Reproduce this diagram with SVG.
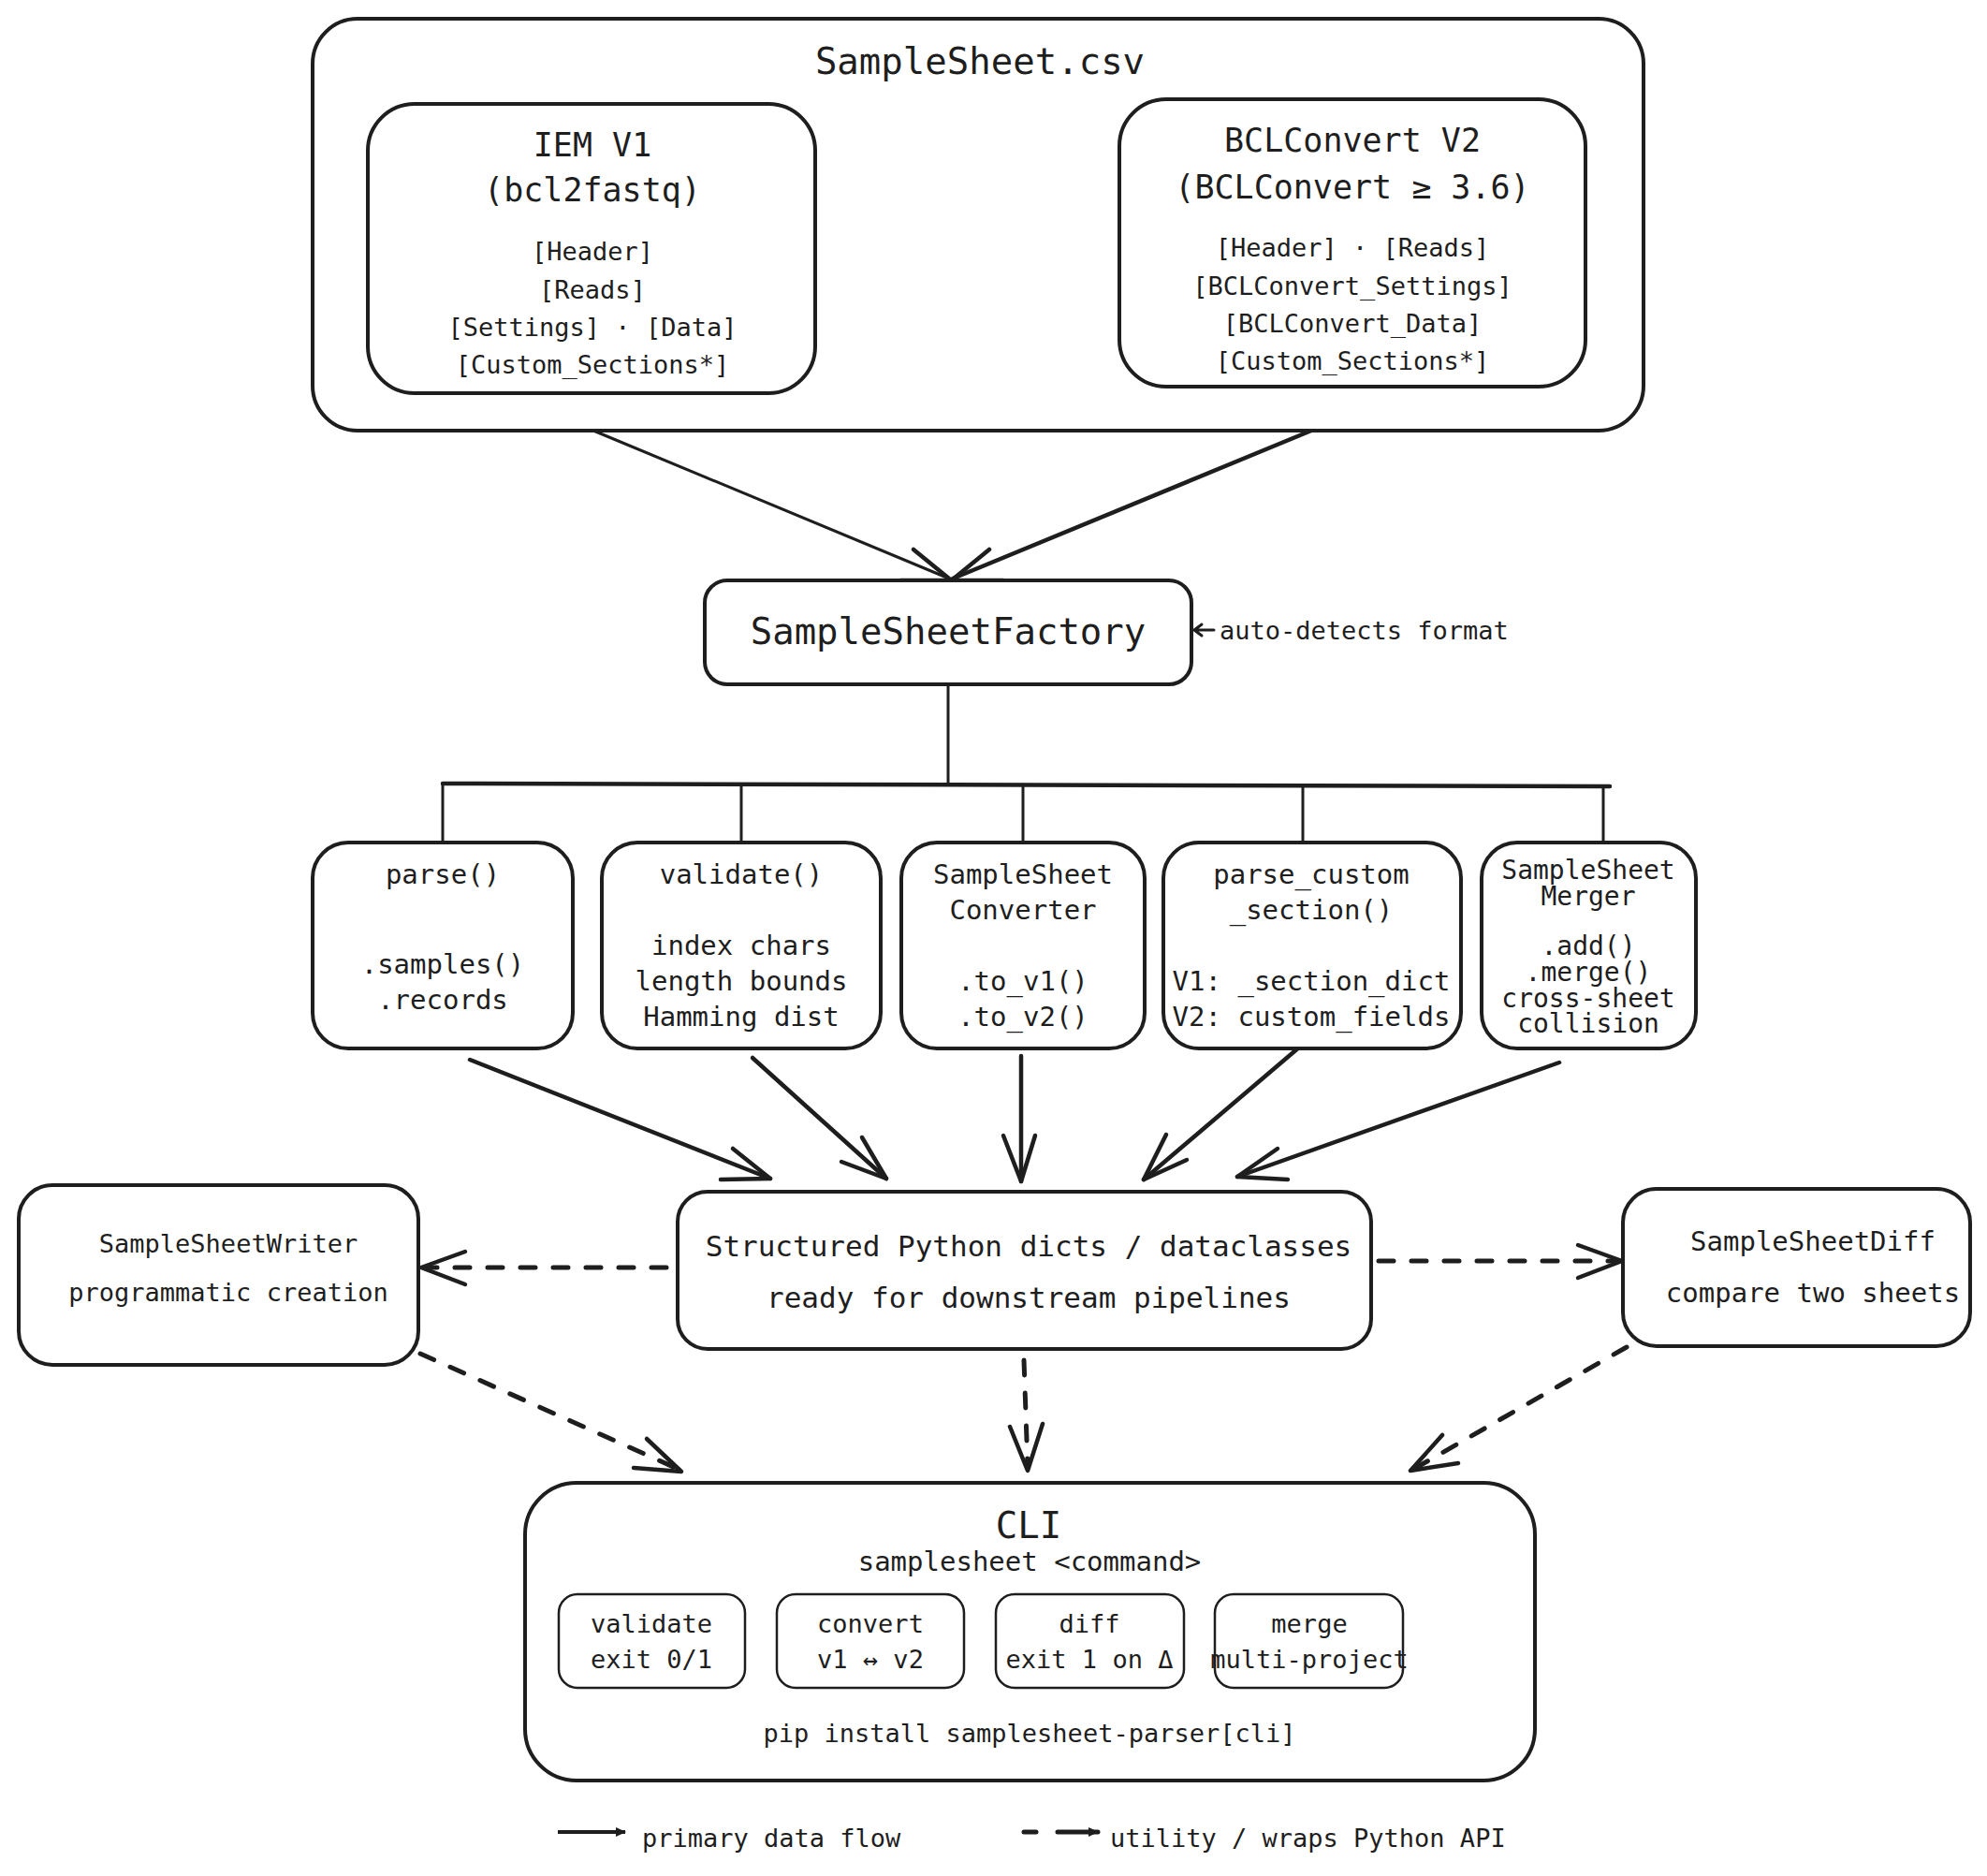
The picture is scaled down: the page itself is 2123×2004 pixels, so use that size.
<svg xmlns="http://www.w3.org/2000/svg" width="2123" height="2004" viewBox="0 0 2123 2004">
<style>
  text { font-family: "DejaVu Sans Mono", "Liberation Mono", monospace; fill: #1e1e1e; text-anchor: middle; dominant-baseline: central; }
  .box { fill: #ffffff; stroke: #1e1e1e; stroke-width: 4; }
  .sub { fill: #ffffff; stroke: #1e1e1e; stroke-width: 2.5; }
  .t39 { font-size: 39px; }
  .t35 { font-size: 35px; }
  .t31 { font-size: 31px; }
  .t29 { font-size: 29px; }
  .t28 { font-size: 28px; }
  .t27 { font-size: 27px; }
  .start { text-anchor: start; }
  .line { fill: none; stroke: #1e1e1e; stroke-width: 3; stroke-linecap: round; stroke-linejoin: round; }
  .solid { fill: none; stroke: #1e1e1e; stroke-width: 4.5; stroke-linecap: round; stroke-linejoin: round; }
  .dash { fill: none; stroke: #1e1e1e; stroke-width: 5; stroke-linecap: round; stroke-dasharray: 16 19; }
  .head { fill: none; stroke: #1e1e1e; stroke-width: 4.5; stroke-linecap: round; stroke-linejoin: round; }
</style>
<defs>
  <marker id="tri" viewBox="0 0 12 12" refX="10" refY="6" markerWidth="12" markerHeight="12" markerUnits="userSpaceOnUse" orient="auto">
    <path d="M0,1 L11,6 L0,11 Z" fill="#1e1e1e"/>
  </marker>
</defs>

<g id="connectors">
  <!-- top arrows into factory -->
  <path class="line" d="M634,460 L1014,618"/>
  <path class="solid" d="M1401,460 L1018,618"/>
  <path class="head" d="M976,587 L1014,618 M1057,587 L1019,618 M962,620 L1072,620"/>
  <!-- auto-detect arrow -->
  <path class="line" stroke-width="2.5" d="M1297,673 L1276,673 M1284,667 L1276,673 L1284,679"/>
  <!-- factory to methods -->
  <path class="line" d="M1013,731 L1013,838"/>
  <path class="solid" d="M473,837 L1720,840"/>
  <path class="line" d="M473,837 L473,899 M792,838 L792,899 M1093,838 L1093,899 M1392,839 L1392,899 M1713,840 L1713,899"/>
  <!-- methods to structured -->
  <path class="solid" d="M502,1132 L823,1259"/>
  <path class="head" d="M783,1227 L823,1259 L770,1260"/>
  <path class="solid" d="M804,1130 L947,1259"/>
  <path class="head" d="M921,1215 L947,1259 L899,1241"/>
  <path class="solid" d="M1091,1128 L1091,1262"/>
  <path class="head" d="M1072,1213 L1091,1262 L1106,1213"/>
  <path class="solid" d="M1389,1118 L1222,1260"/>
  <path class="head" d="M1246,1212 L1222,1260 L1268,1239"/>
  <path class="solid" stroke-width="6" d="M1666,1135 L1322,1257"/>
  <path class="head" d="M1365,1227 L1322,1257 L1376,1260"/>
  <!-- dashed utility arrows -->
  <path class="dash" d="M712,1354 L454,1354"/>
  <path class="head" d="M497,1337 L450,1354 L497,1372"/>
  <path class="dash" d="M1473,1347 L1728,1347"/>
  <path class="head" d="M1686,1330 L1733,1347 L1686,1365"/>
  <path class="dash" d="M449,1446 L724,1569"/>
  <path class="head" d="M691,1537 L728,1572 L677,1568"/>
  <path class="dash" d="M1094,1453 L1098,1567"/>
  <path class="head" d="M1079,1524 L1098,1571 L1114,1521"/>
  <path class="dash" d="M1738,1439 L1511,1569"/>
  <path class="head" d="M1541,1533 L1507,1571 L1558,1563"/>
</g>

<g id="samplesheet-csv">
  <rect class="box" x="334" y="20" width="1422" height="440" rx="48"/>
  <text class="t39" x="1047" y="65">SampleSheet.csv</text>
</g>

<g id="iem-v1">
  <rect class="box" x="393" y="111" width="478" height="309" rx="50"/>
  <text class="t35" x="633" y="155">IEM V1</text>
  <text class="t35" x="633" y="203">(bcl2fastq)</text>
  <text class="t27" x="633" y="268">[Header]</text>
  <text class="t27" x="633" y="309">[Reads]</text>
  <text class="t27" x="633" y="349">[Settings] · [Data]</text>
  <text class="t27" x="633" y="389">[Custom_Sections*]</text>
</g>

<g id="bclconvert-v2">
  <rect class="box" x="1196" y="106" width="498" height="307" rx="50"/>
  <text class="t35" x="1445" y="150">BCLConvert V2</text>
  <text class="t35" x="1445" y="200">(BCLConvert ≥ 3.6)</text>
  <text class="t27" x="1445" y="264">[Header] · [Reads]</text>
  <text class="t27" x="1445" y="305">[BCLConvert_Settings]</text>
  <text class="t27" x="1445" y="345">[BCLConvert_Data]</text>
  <text class="t27" x="1445" y="385">[Custom_Sections*]</text>
</g>

<g id="factory">
  <rect class="box" x="753" y="620" width="520" height="111" rx="24"/>
  <text class="t39" x="1013" y="674">SampleSheetFactory</text>
  <text class="t27 start" x="1303" y="673">auto-detects format</text>
</g>

<g id="parse">
  <rect class="box" x="334" y="900" width="278" height="220" rx="38"/>
  <text class="t29" x="473" y="934">parse()</text>
  <text class="t29" x="473" y="1030">.samples()</text>
  <text class="t29" x="473" y="1068">.records</text>
</g>

<g id="validate">
  <rect class="box" x="643" y="900" width="298" height="220" rx="38"/>
  <text class="t29" x="792" y="934">validate()</text>
  <text class="t29" x="792" y="1010">index chars</text>
  <text class="t29" x="792" y="1048">length bounds</text>
  <text class="t29" x="792" y="1086">Hamming dist</text>
</g>

<g id="converter">
  <rect class="box" x="963" y="900" width="260" height="220" rx="38"/>
  <text class="t29" x="1093" y="934">SampleSheet</text>
  <text class="t29" x="1093" y="972">Converter</text>
  <text class="t29" x="1093" y="1048">.to_v1()</text>
  <text class="t29" x="1093" y="1086">.to_v2()</text>
</g>

<g id="parse-custom">
  <rect class="box" x="1243" y="900" width="318" height="220" rx="38"/>
  <text class="t29" x="1401" y="934">parse_custom</text>
  <text class="t29" x="1401" y="972">_section()</text>
  <text class="t29" x="1401" y="1048">V1: _section_dict</text>
  <text class="t29" x="1401" y="1086">V2: custom_fields</text>
</g>

<g id="merger">
  <rect class="box" x="1583" y="900" width="229" height="220" rx="38"/>
  <text class="t28" x="1697" y="929">SampleSheet</text>
  <text class="t28" x="1697" y="957">Merger</text>
  <text class="t28" x="1697" y="1010">.add()</text>
  <text class="t28" x="1697" y="1038">.merge()</text>
  <text class="t28" x="1697" y="1066">cross-sheet</text>
  <text class="t28" x="1697" y="1093">collision</text>
</g>

<g id="structured">
  <rect class="box" x="724" y="1273" width="741" height="168" rx="32"/>
  <text class="t31" x="1099" y="1331">Structured Python dicts / dataclasses</text>
  <text class="t31" x="1099" y="1386">ready for downstream pipelines</text>
</g>

<g id="writer">
  <rect class="box" x="20" y="1266" width="427" height="192" rx="36"/>
  <text class="t27" x="244" y="1328">SampleSheetWriter</text>
  <text class="t27" x="244" y="1380">programmatic creation</text>
</g>

<g id="diff">
  <rect class="box" x="1734" y="1270" width="371" height="168" rx="36"/>
  <text class="t29" x="1937" y="1326">SampleSheetDiff</text>
  <text class="t29" x="1937" y="1381">compare two sheets</text>
</g>

<g id="cli">
  <rect class="box" x="561" y="1584" width="1079" height="318" rx="55"/>
  <text class="t39" x="1099" y="1629">CLI</text>
  <text class="t29" x="1100" y="1668">samplesheet &lt;command&gt;</text>
  <g id="cli-validate">
    <rect class="sub" x="597" y="1703" width="199" height="100" rx="20"/>
    <text class="t27" x="696" y="1734">validate</text>
    <text class="t27" x="696" y="1772">exit 0/1</text>
  </g>
  <g id="cli-convert">
    <rect class="sub" x="830" y="1703" width="200" height="100" rx="20"/>
    <text class="t27" x="930" y="1734">convert</text>
    <text class="t27" x="930" y="1772">v1 ↔ v2</text>
  </g>
  <g id="cli-diff">
    <rect class="sub" x="1064" y="1703" width="201" height="100" rx="20"/>
    <text class="t27" x="1164" y="1734">diff</text>
    <text class="t27" x="1164" y="1772">exit 1 on Δ</text>
  </g>
  <g id="cli-merge">
    <rect class="sub" x="1298" y="1703" width="201" height="100" rx="20"/>
    <text class="t27" x="1399" y="1734">merge</text>
    <text class="t27" x="1399" y="1772">multi-project</text>
  </g>
  <text class="t27" x="1100" y="1851">pip install samplesheet-parser[cli]</text>
</g>

<g id="legend">
  <path d="M596,1957 L668,1957" fill="none" stroke="#1e1e1e" stroke-width="4" marker-end="url(#tri)"/>
  <text class="t27 start" x="686" y="1963">primary data flow</text>
  <path d="M1094,1957 L1107,1957 M1130,1957 L1173,1957" fill="none" stroke="#1e1e1e" stroke-width="5" stroke-linecap="round" marker-end="url(#tri)"/>
  <text class="t27 start" x="1186" y="1963">utility / wraps Python API</text>
</g>
</svg>
